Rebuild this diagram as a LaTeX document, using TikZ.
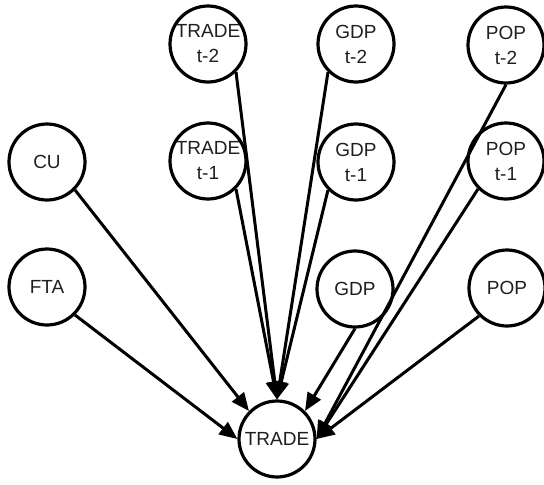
\documentclass[tikz,border=0pt]{standalone}
\usepackage{fontspec}
\setmainfont{Liberation Sans}
\usetikzlibrary{arrows.meta}
\begin{document}
\begin{tikzpicture}[x=1pt,y=-1pt,
  ball/.style={draw,circle,line width=3.2pt,minimum size=76pt,inner sep=0pt,
    align=center,font=\fontsize{19}{25}\selectfont,text=black!88},
  arr/.style={line width=3pt,-{Triangle[length=18pt,width=15pt]}}]
\useasboundingbox (0,0) rectangle (544,485);

\node[ball] (trade2) at (208,44)  {TRADE\\t-2};
\node[ball] (gdp2)   at (356,44)  {GDP\\t-2};
\node[ball] (pop2)   at (506,45)  {POP\\t-2};

\node[ball] (cu)     at (47,162)  {CU};
\node[ball] (trade1) at (208,161) {TRADE\\t-1};
\node[ball] (gdp1)   at (356,162) {GDP\\t-1};
\node[ball] (pop1)   at (506,161) {POP\\t-1};

\node[ball] (fta)    at (47,287)  {FTA};
\node[ball] (gdp)    at (355,289) {GDP};
\node[ball] (pop)    at (507,288) {POP};

\node[ball] (trade)  at (277,439) {TRADE};

\draw[arr] (cu.south east)     -- (trade.north west);
\draw[arr] (fta.south east)    -- (trade.west);
\draw[arr] (trade2.south east) -- (trade.north);
\draw[arr] (trade1.south east) -- (trade.north);
\draw[arr] (gdp2.south west)   -- (trade.north);
\draw[arr] (gdp1.south west)   -- (trade.north);
\draw[arr] (gdp.south)         -- (trade.north east);
\draw[arr] (pop2.south)        -- (trade.east);
\draw[arr] (pop1.south west)   -- (trade.east);
\draw[arr] (pop.south west)    -- (trade.east);
\end{tikzpicture}
\end{document}
